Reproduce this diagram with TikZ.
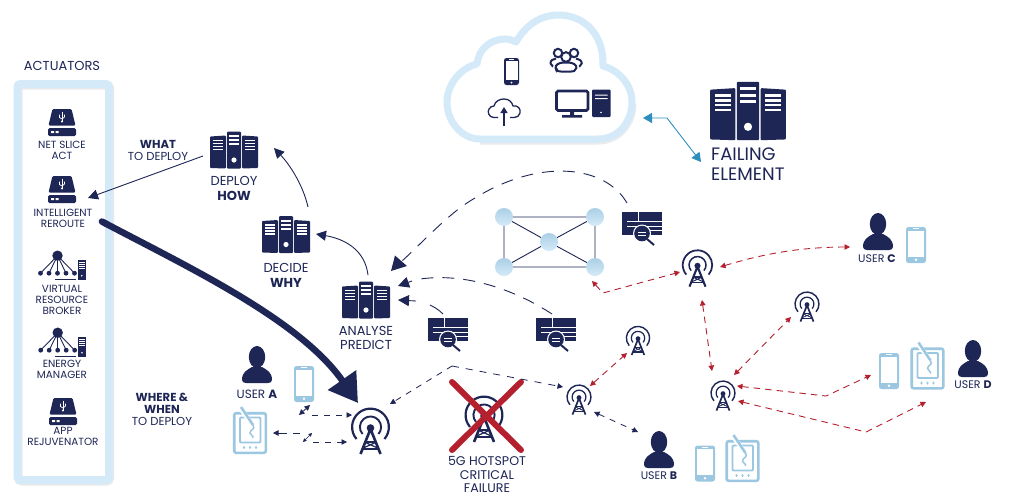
\documentclass[tikz,border=0pt]{standalone}
\usepackage{fontspec}
\setmainfont{Poppins}
\usetikzlibrary{arrows.meta}
\definecolor{navy}{HTML}{1E2656}
\definecolor{frame}{HTML}{D5EAF9}
\definecolor{frameshadow}{HTML}{E9EBEC}
\definecolor{device}{HTML}{9CC7E0}
\definecolor{alarm}{HTML}{B5202E}
\definecolor{link}{HTML}{2E8FBF}
\tikzset{
  txt/.style={text=navy,align=center,inner sep=0pt,font=\fontsize{10.4}{11}\selectfont},
  txtbig/.style={txt,font=\fontsize{13}{14.5}\selectfont},
  txthuge/.style={txt,align=left,anchor=west,font=\fontsize{18}{20}\selectfont},
  meshdot/.style={circle,minimum size=18pt,inner sep=0pt,top color=device!85!white,bottom color=frame},
  thin link/.style={navy,line width=0.9pt},
  big head/.style={-{Triangle[length=10pt,width=10pt]}},
  longdash/.style={navy,line width=0.9pt,dash pattern=on 12pt off 9pt},
  shortdash/.style={navy,line width=0.8pt,dash pattern=on 6pt off 6pt},
  reddash/.style={alarm,line width=0.9pt,dash pattern=on 6.5pt off 5pt},
  small both/.style={{Triangle[length=5.5pt,width=5.5pt]}-{Triangle[length=5.5pt,width=5.5pt]}},
  small end/.style={-{Triangle[length=5.5pt,width=5.5pt]}},
  small start/.style={{Triangle[length=5.5pt,width=5.5pt]}-},
  pics/server/.style={code={\begin{scope}[scale=#1]
    \fill[navy,rounded corners=1pt] (-24,-13.5) -- (-8,-14.5) -- (-8,18.5) -- (-24,18) -- cycle;
    \fill[navy,rounded corners=1pt] (8,-14.5) -- (24,-13.5) -- (24,18) -- (8,18.5) -- cycle;
    \fill[navy,rounded corners=1pt] (-7,-18.5) rectangle (7,18.5);
    \foreach \y in {-10.5,-7.5,-4.5,-1.5}{
      \fill[white] (-21,\y) rectangle (-11,\y+1.6);
      \fill[white] (11,\y) rectangle (21,\y+1.6);}
    \foreach \y in {-15,-11,-7}{\fill[white] (-5,\y) rectangle (5,\y+2);}
    \fill[white] (0,10) circle (2.6);
  \end{scope}}},
  pics/usbdrive/.style={code={
    \fill[navy,rounded corners=1.2pt] (-9.5,-13.5) -- (9.5,-13.5) -- (13.5,3) -- (-13.5,3) -- cycle;
    \fill[navy,rounded corners=1.5pt] (-14,5.5) rectangle (14,13.5);
    \fill[white] (-11,8.5) rectangle (-8,10.5) (-6.5,8.5) rectangle (-3.5,10.5);
    \draw[white,line width=0.9pt] (0,-11) -- (0,-1);
    \draw[white,line width=0.7pt] (-2.5,-8) -- (-2.5,-5) -- (0,-3.5) -- (2.5,-5.5) -- (2.5,-8);
    \fill[white] (0,-1) circle (1.2);
  }},
  pics/starnet/.style={code={
    \fill[navy] (0,0) circle (5.2);
    \foreach \x in {-17,-8.5,0,8.5,17}{
      \draw[navy,line width=0.9pt] (0,0) -- (\x,17.5);
      \fill[navy] (\x,17.5) circle (2.4);}
    \draw[navy,line width=0.8pt] (-3,24) -- (18.5,24);
    \fill[navy] (20,4.5) rectangle (28.5,24.5);
    \foreach \y in {6.2,8.2,10.2,12.2}{\fill[white] (21.5,\y) rectangle (27,\y+1);}
    \fill[white] (24.3,20) circle (0.9);
  }},
  pics/tower/.style={code={\begin{scope}[scale=#1]
    \draw[navy,line width=#1*2.2pt] (-14,12) arc[start angle=139.4,end angle=400.6,radius=18.4];
    \draw[navy,line width=#1*1.9pt] (-8,7) arc[start angle=139,end angle=401,radius=10.6];
    \fill[navy] (0,1) circle (3.8);
    \draw[navy,line width=#1*2.6pt,line join=round] (-10,27) -- (0,2) -- (10,27);
    \draw[navy,line width=#1*2.2pt] (-5.2,15) -- (5.2,15) (-8.4,22) -- (8.4,22);
    \draw[navy,line width=#1*1.2pt] (-7.2,21) -- (5,15.5) (7.2,21) -- (-5,15.5);
  \end{scope}}},
  pics/person/.style={code={
    \fill[navy] (0,11) ellipse (8.2 and 11);
    \fill[navy] (-15,34) .. controls (-15,26) and (-10,24) .. (-5,21) -- (5,21)
       .. controls (10,24) and (15,26) .. (15,34) .. controls (15,36) and (13,37) .. (11,37)
       -- (-11,37) .. controls (-13,37) and (-15,36) .. (-15,34) -- cycle;
  }},
  pics/phone/.style 2 args={code={\begin{scope}[scale=#2]
    \fill[#1,rounded corners=2.5pt] (-10,-18) rectangle (10,18);
    \fill[white] (-8,-14.5) rectangle (8,11.5);
    \fill[white] (-3,-16.6) rectangle (3,-15.8);
    \fill[white] (0,14.8) circle (1.4);
  \end{scope}}},
  pics/tablet/.style={code={
    \draw[device,line width=2.6pt,rounded corners=2pt] (-15.8,-19.8) rectangle (15.8,19.8);
    \draw[device,line width=1.8pt,rounded corners=1pt] (-10,-15.5) rectangle (10.5,9.5);
    \foreach \x in {-6,0,6}{\fill[device] (\x,14.5) ellipse (1.2 and 1.6);}
    \draw[white,line width=4.5pt] (-9,-24) -- (2.5,-8);
    \draw[device,line width=2.6pt] (-9,-26) -- (3,-8);
    \draw[device,line width=1.5pt] (3,-8) .. controls (6,-3) and (0,-4) .. (0,0)
       .. controls (0,3) and (4,2) .. (3,5);
  }},
  pics/analyzer/.style={code={
    \fill[navy] (0,0) rectangle (40,23);
    \fill[white] (15.5,0) rectangle (17,9);
    \fill[white] (5,9) rectangle (40,10.2);
    \fill[white] (5,13.5) rectangle (40,14.7);
    \fill[white] (14,18) rectangle (40,19.2);
    \fill[white] (20,21.5) circle (9);
    \fill[navy] (20,21.5) circle (7.8);
    \draw[navy,line width=2pt] (25,27) -- (32,33);
    \draw[white,line width=0.7pt] (16,20) -- (24,20) (16,23.5) -- (24,23.5);
  }},
}
\begin{document}
\begin{tikzpicture}[x=1pt,y=-1pt]
\useasboundingbox (0,0) rectangle (1009,499);
\fill[white] (0,0) rectangle (1009,499);

% actuator frame
\draw[frameshadow,line width=8pt,rounded corners=3pt] (18.5,85.5) rectangle (110,481.5);
\draw[frame,line width=8pt,rounded corners=3pt] (17.5,84) rectangle (109,480);
\node[txtbig] (actuators) at (62,66) {ACTUATORS};

% actuator icons
\pic at (62,122.5) {usbdrive};
\node[txt] (netslice) at (62,150.5) {NET SLICE\\ACT};
\pic at (62,189.5) {usbdrive};
\node[txt] (reroute) at (63,218.5) {INTELLIGENT\\REROUTE};
\pic at (57.5,255.7) {starnet};
\node[txt] (broker) at (62,299.5) {VIRTUAL\\RESOURCE\\BROKER};
\pic at (57.7,332.7) {starnet};
\node[txt] (energy) at (62,369) {ENERGY\\MANAGER};
\pic at (63,411.5) {usbdrive};
\node[txt] (rejuv) at (63,436.5) {APP\\REJUVENATOR};

% servers
\pic at (234,150) {server=1};
\pic at (286,234.5) {server=1};
\pic at (366,300) {server=1};
\pic at (748,111) {server=1.58};
\node[txtbig] (deploy) at (234,188.5) {DEPLOY\\\textbf{HOW}};
\node[txtbig] (decide) at (286,275.5) {DECIDE\\\textbf{WHY}};
\node[txtbig] (analyse) at (366,338) {ANALYSE\\PREDICT};
\node[txthuge] (failing) at (711,164) {FAILING\\ELEMENT};

% side captions
\node[txt,font=\fontsize{11.6}{12.5}\selectfont] (what) at (158,150.5) {\textbf{WHAT}\\TO DEPLOY};
\node[txt,font=\fontsize{11.6}{12}\selectfont] (where) at (162,409) {\textbf{WHERE \&}\\\textbf{WHEN}\\TO DEPLOY};

% cloud
\draw[frameshadow,line width=7pt] (480,141) -- (598,141) .. controls (620,141) and (633,122) .. (633,104);
\draw[frame,line width=7pt,line join=round] (480,139) -- (598,139) .. controls (620,139) and (632,120) .. (632,102)
  .. controls (632,84) and (618,70) .. (603,66) .. controls (604,35) and (585,15) .. (558,15)
  .. controls (540,15) and (525,26) .. (516,42) .. controls (505,35) and (480,40) .. (477,64)
  .. controls (460,68) and (447,85) .. (447,102) .. controls (447,122) and (462,139) .. (480,139) -- cycle;
\pic at (511.5,71.5) {phone={navy}{0.75}};
% people
\begin{scope}[navy,line width=2pt]
  \draw (558,53) circle (4.2) (574,53) circle (4.2);
  \draw[rounded corners=2pt] (553,66.5) -- (551,65.5) .. controls (550,61) and (553,58.5) .. (556,58.5);
  \draw[rounded corners=2pt] (579,66.5) -- (581.5,65.5) .. controls (582,61) and (579,58.5) .. (576,58.5);
  \draw[fill=white] (566,57) circle (4.8);
  \draw[fill=white,rounded corners=2pt] (556,70) .. controls (555,65) and (559,62.5) .. (566,62.5)
     .. controls (573,62.5) and (577,65) .. (576,70) .. controls (572,72) and (560,72) .. (556,70) -- cycle;
\end{scope}
% upload cloud
\draw[navy,line width=1.3pt,line join=round] (498,117.5) -- (494,117.5) .. controls (489,117.5) and (487,112) .. (489,109)
  .. controls (490,107) and (492,106) .. (494,106) .. controls (495,101) and (500,99) .. (504,99)
  .. controls (509,99) and (512,102) .. (513,106) .. controls (518,105) and (521,109) .. (520,113)
  .. controls (519.5,116) and (517,117.5) .. (514,117.5) -- (510,117.5);
\coordinate (upTail) at (504,126);
\coordinate (upTip) at (504,107);
\draw[navy,line width=1.3pt,-{Triangle[length=6pt,width=7pt]}] (upTail) -- (upTip);
% desktop
\draw[navy,line width=2.6pt,rounded corners=1.5pt] (556.5,91) rectangle (588,110.5);
\fill[navy] (570,112) rectangle (574,115) (562,115) rectangle (582,117.5);
\fill[navy,rounded corners=1pt] (592,89.5) rectangle (610.5,117);
\fill[white] (595,94.5) rectangle (607.5,95.7) (595,98) rectangle (607.5,99.2);
\fill[white] (601,112.5) circle (0.9);

% cloud <-> failing element
\coordinate (cloudEnd) at (643,118);
\coordinate (cloudBend) at (667,118);
\coordinate (failEnd) at (701,162);
\draw[link,line width=0.9pt,{Triangle[length=9pt,width=10pt]}-{Triangle[length=9pt,width=10pt]}] (cloudEnd) -- (cloudBend) -- (failEnd);

% mesh
\node[meshdot] (m1) at (504,217) {};
\node[meshdot] (m2) at (595,217) {};
\node[meshdot] (m3) at (549,242) {};
\node[meshdot] (m4) at (504,267) {};
\node[meshdot] (m5) at (595,267) {};
\draw[navy,line width=0.9pt] (m1)--(m2) (m1)--(m3) (m1)--(m4) (m2)--(m3) (m2)--(m5) (m3)--(m4) (m3)--(m5) (m4)--(m5);

% analyzers
\pic at (428,318) {analyzer};
\pic at (536,318) {analyzer};
\pic at (622,212) {analyzer};

% towers
\pic at (370.5,427) {tower=1};
\pic at (484,415) {tower=1};
\pic at (579,397) {tower=0.65};
\pic at (638,338) {tower=0.63};
\pic at (697.5,265) {tower=0.8};
\pic at (807,304) {tower=0.65};
\pic at (723,393) {tower=0.65};

% failure cross
\draw[alarm,line width=6pt,line cap=round] (452,382) -- (521,450) (521,382) -- (452,450);
\node[txtbig,font=\fontsize{12.6}{13.7}\selectfont] (hotspot) at (487,474.5) {5G HOTSPOT\\CRITICAL\\FAILURE};

% users and devices
\pic at (257,346) {person};
\node[txt,font=\fontsize{12}{11}\selectfont] (userA) at (257,394) {USER \textbf{A}};
\pic at (659,431) {person};
\node[txt,font=\fontsize{11}{11}\selectfont] (userB) at (659,476) {USER \textbf{B}};
\pic at (878,213) {person};
\node[txt,font=\fontsize{11}{11}\selectfont] (userC) at (877,259) {USER \textbf{C}};
\pic at (973,340) {person};
\node[txt,font=\fontsize{11}{11}\selectfont] (userD) at (973,385) {USER \textbf{D}};
\pic at (304,384) {phone={device}{1}};
\pic at (705,463.5) {phone={device}{1}};
\pic at (916,245) {phone={device}{1}};
\pic at (889,371) {phone={device}{1}};
\pic at (250,433) {tablet};
\pic at (742.5,461) {tablet};
\pic at (927.5,368.5) {tablet};

% control loop
\coordinate (deployOut) at (203,156);
\coordinate (rerouteIn) at (88,198);
\draw[thin link,big head] (deployOut) -- (rerouteIn);
\coordinate (decideUp) at (308,207);
\coordinate (deployIn) at (274,148);
\draw[thin link,big head] (decideUp) .. controls (303,185) and (290,165) .. (deployIn);
\coordinate (analyseUp) at (368,275);
\coordinate (decideIn) at (316,234);
\draw[thin link,big head] (analyseUp) .. controls (365,250) and (345,239) .. (decideIn);

% where and when thick arrow
\coordinate (rerouteOut) at (99,220);
\coordinate (bigTowerIn) at (358,403);
\draw[navy,line width=6.5pt,{Round Cap[]}-{Triangle[length=28pt,width=33pt]}] (rerouteOut) .. controls (190,268) and (300,320) .. (bigTowerIn);

% monitoring feedback
\coordinate (farAna) at (627,203);
\coordinate (loopTip) at (391,271);
\draw[longdash] (farAna) .. controls (605,165) and (540,158) .. (475,198) .. controls (450,212) and (425,240) .. (402,261);
\fill[navy] (loopTip) -- (407,266) -- (395,255.5) -- cycle;
\coordinate (midAna) at (552,314);
\coordinate (midTip) at (398,286);
\draw[longdash] (midAna) .. controls (520,293) and (470,272) .. (420,279);
\draw[navy,line width=0.9pt,-{Triangle[length=11pt,width=11pt]}] (412,281) -- (midTip);
\coordinate (nearAna) at (443,314);
\coordinate (nearTip) at (398,300);
\draw[navy,line width=0.9pt] (nearAna) .. controls (438,309) and (434,307) .. (430,305);
\draw[navy,line width=0.9pt,-{Triangle[length=11pt,width=11pt]}] (416,301) -- (nearTip);

% split from failed hotspot
\coordinate (apex) at (452,366);
\coordinate (splitLeft) at (390,404);
\coordinate (splitRight) at (563,387);
\draw[shortdash,small end] (apex) -- (splitLeft);
\draw[shortdash,small end,dash pattern=on 7pt off 7pt] (apex) -- (splitRight);

% user A links
\coordinate (phoneTipA) at (310,405);
\coordinate (phoneTipB) at (299,415);
\draw[navy,line width=0.8pt,small both] (phoneTipB) -- (phoneTipA);
\coordinate (phoneLineA) at (312,415);
\coordinate (towerInA) at (352,415);
\draw[shortdash,small end] (phoneLineA) -- (towerInA);
\coordinate (tabTip) at (273,433);
\coordinate (tabLine) at (300,433);
\draw[shortdash,small start,dash pattern=on 9pt off 6pt] (tabTip) -- (tabLine);
\coordinate (tinyA) at (303,442);
\coordinate (tinyB) at (312,433);
\draw[navy,line width=0.6pt,{Triangle[length=3.5pt,width=3.5pt]}-{Triangle[length=3.5pt,width=3.5pt]}] (tinyA) -- (tinyB);
\coordinate (towerLineA) at (313,442);
\coordinate (towerInB) at (347,442);
\draw[shortdash,small end] (towerLineA) -- (towerInB);

% tower B to user B
\coordinate (towerBOut) at (594,412);
\coordinate (userBIn) at (638,432);
\draw[shortdash,small both] (towerBOut) -- (userBIn);

% red mesh links
\coordinate (towerBUp) at (590,386);
\coordinate (towerTopIn) at (627,353);
\draw[reddash,small both] (towerBUp) -- (towerTopIn);
\coordinate (meshIn) at (592,281);
\coordinate (redBend) at (603,293);
\coordinate (towerCIn) at (680,272);
\draw[reddash,small both] (meshIn) -- (redBend) -- (towerCIn);
\coordinate (towerCOut) at (720,267);
\coordinate (userCIn) at (850,247);
\draw[reddash,small both] (towerCOut) .. controls (750,258) and (790,247) .. (userCIn);
\coordinate (towerCDown) at (702,300);
\coordinate (towerDUp) at (712,371);
\draw[reddash,small both] (towerCDown) -- (towerDUp);
\coordinate (towerDUr) at (734,375);
\coordinate (towerEIn) at (791,317);
\draw[reddash,small both] (towerDUr) -- (towerEIn);
\coordinate (towerDr) at (737,386);
\coordinate (bendPhone) at (826,396);
\coordinate (phoneDIn) at (871,375);
\draw[reddash,small both] (towerDr) -- (bendPhone) -- (phoneDIn);
\coordinate (towerDlow) at (738,401);
\coordinate (bendTab) at (866,432);
\coordinate (tabDIn) at (926,402);
\draw[reddash,small both] (towerDlow) -- (bendTab) -- (tabDIn);
\end{tikzpicture}
\end{document}
